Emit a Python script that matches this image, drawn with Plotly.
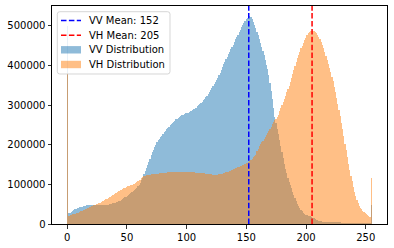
import numpy as np
import plotly.graph_objects as go

pixel_values = list(range(256))

vv_counts = [
    500000, 27000, 29000, 31000, 33000, 35000, 37000, 38000, 40000, 41000,
    42000, 43000, 44000, 45000, 46000, 46000, 47000, 47000, 48000, 48000,
    48000, 48000, 48000, 48000, 48000, 48000, 48000, 48000, 48000, 48000,
    48000, 48000, 49000, 49000, 49000, 50000, 50000, 51000, 52000, 53000,
    54000, 55000, 56000, 57000, 59000, 61000, 63000, 65000, 67000, 69000,
    71000, 73000, 75000, 78000, 80000, 83000, 86000, 89000, 92000, 95000,
    99000, 104000, 110000, 117000, 125000, 133000, 141000, 149000, 157000, 165000,
    173000, 181000, 188000, 194000, 200000, 206000, 211000, 215000, 219000, 223000,
    227000, 231000, 235000, 239000, 243000, 246000, 249000, 252000, 255000, 258000,
    261000, 264000, 266000, 268000, 270000, 272000, 274000, 276000, 278000, 279000,
    280000, 281000, 282000, 284000, 286000, 288000, 290000, 292000, 294000, 297000,
    300000, 303000, 306000, 309000, 312000, 316000, 320000, 324000, 329000, 334000,
    339000, 344000, 349000, 354000, 359000, 364000, 369000, 375000, 382000, 389000,
    396000, 403000, 410000, 416000, 422000, 428000, 434000, 441000, 447000, 453000,
    459000, 466000, 472000, 478000, 484000, 490000, 496000, 502000, 508000, 513000,
    517000, 521000, 523000, 524000, 522000, 517000, 510000, 502000, 494000, 485000,
    476000, 466000, 456000, 446000, 436000, 426000, 414000, 402000, 390000, 375000,
    355000, 335000, 315000, 293000, 270000, 255000, 240000, 226000, 212000, 196000,
    181000, 166000, 152000, 139000, 128000, 117000, 107000, 98000, 90000, 82000,
    72000, 65000, 58000, 51000, 45000, 40000, 36000, 32000, 28000, 25000,
    23000, 22000, 21000, 20000, 19000, 18000, 16000, 14000, 12000, 10000,
    9000, 8000, 7000, 7000, 6000, 6000, 6000, 5000, 5000, 5000,
    5000, 5000, 4000, 4000, 4000, 4000, 4000, 4000, 4000, 4000,
    3500, 3500, 3500, 3500, 3500, 3500, 3500, 3500, 3500, 3500,
    3500, 3500, 3500, 3500, 3000, 3000, 3000, 3000, 3000, 3000,
    3000, 3000, 3000, 3000, 3000, 48000,
]

vh_counts = [
    380000, 21000, 22000, 23000, 24000, 25000, 26000, 27000, 28000, 29000,
    30000, 32000, 33000, 35000, 36000, 37000, 39000, 41000, 42000, 44000,
    45000, 46000, 48000, 49000, 50000, 51000, 53000, 54000, 56000, 57000,
    59000, 60000, 62000, 64000, 65000, 67000, 69000, 71000, 73000, 75000,
    77000, 79000, 81000, 83000, 85000, 87000, 89000, 91000, 92000, 94000,
    95000, 96000, 97000, 98000, 99000, 100000, 102000, 104000, 106000, 108000,
    110000, 112000, 115000, 118000, 121000, 122000, 123000, 123000, 124000, 124000,
    125000, 125000, 126000, 126000, 127000, 127000, 127000, 128000, 128000, 128000,
    129000, 129000, 129000, 129000, 130000, 130000, 130000, 130000, 130000, 130000,
    130000, 130000, 130000, 130000, 130000, 130000, 130000, 130000, 130000, 130000,
    130000, 130000, 130000, 130000, 130000, 130000, 130000, 129000, 129000, 129000,
    129000, 129000, 129000, 129000, 128000, 128000, 127000, 127000, 126000, 126000,
    125000, 125000, 124000, 124000, 124000, 124000, 124000, 125000, 125000, 126000,
    127000, 128000, 129000, 130000, 131000, 132000, 133000, 135000, 136000, 138000,
    139000, 141000, 142000, 144000, 145000, 146000, 147000, 149000, 150000, 152000,
    153000, 154000, 156000, 159000, 162000, 165000, 168000, 171000, 175000, 183000,
    190000, 196000, 201000, 206000, 210000, 215000, 220000, 225000, 230000, 235000,
    240000, 246000, 252000, 258000, 262000, 265000, 270000, 276000, 284000, 292000,
    300000, 308000, 316000, 324000, 332000, 340000, 348000, 358000, 368000, 378000,
    389000, 399000, 409000, 418000, 427000, 435000, 443000, 450000, 457000, 464000,
    470000, 476000, 481000, 484000, 486000, 487000, 487000, 486000, 484000, 481000,
    477000, 472000, 466000, 460000, 452000, 443000, 434000, 425000, 415000, 405000,
    394000, 383000, 372000, 360000, 347000, 333000, 318000, 303000, 288000, 272000,
    256000, 239000, 221000, 203000, 186000, 168000, 152000, 137000, 122000, 108000,
    94000, 81000, 70000, 60000, 52000, 46000, 41000, 37000, 34000, 31000,
    28000, 25000, 22000, 20000, 18000, 116000,
]

vv_mean = 152
vh_mean = 205

x_ticks = [0, 50, 100, 150, 200, 250]
y_ticks = [0, 100000, 200000, 300000, 400000, 500000]

VV_BAR = "rgba(31,119,180,0.5)"
VH_BAR = "rgba(255,127,14,0.5)"
VV_LINE = "rgb(0,0,255)"
VH_LINE = "rgb(255,0,0)"
DASH = "5.5px,2.4px"

W, H = 394, 248
ML, MR, MT, MB = 52, 7, 6, 24
PW, PH = W - ML - MR, H - MT - MB

edges = np.linspace(0, 255, len(pixel_values) + 1)
centers = (edges[:-1] + edges[1:]) / 2
bin_width = edges[1] - edges[0]
ymax = 1.05 * max(max(vv_counts), max(vh_counts))
span = edges[-1] - edges[0]
xrange = [edges[0] - 0.05 * span, edges[-1] + 0.05 * span]

font = dict(family="DejaVu Sans", size=10, color="#000000")

fig = go.Figure()
fig.add_trace(go.Bar(
    x=centers, y=vv_counts, width=bin_width, name="VV Distribution",
    marker=dict(color=VV_BAR, line=dict(width=0)), showlegend=False,
))
fig.add_trace(go.Bar(
    x=centers, y=vh_counts, width=bin_width, name="VH Distribution",
    marker=dict(color=VH_BAR, line=dict(width=0)), showlegend=False,
))
fig.add_trace(go.Scatter(
    x=[vv_mean, vv_mean], y=[0, ymax], mode="lines", name=f"VV Mean: {vv_mean}",
    line=dict(color=VV_LINE, width=1.5, dash=DASH), showlegend=False,
))
fig.add_trace(go.Scatter(
    x=[vh_mean, vh_mean], y=[0, ymax], mode="lines", name=f"VH Mean: {vh_mean}",
    line=dict(color=VH_LINE, width=1.5, dash=DASH), showlegend=False,
))


# ---- matplotlib-style legend box (layout decoration, pixel based) ----
def px(xp):
    return (xp - ML) / PW


def py(yp):
    return (H - MB - yp) / PH


shapes = []
annotations = []
bx0, bx1, by0, by1, r = 57.3, 170.0, 11.7, 74.0, 2.5
path = (
    f"M {px(bx0 + r)},{py(by0)} L {px(bx1 - r)},{py(by0)} "
    f"Q {px(bx1)},{py(by0)} {px(bx1)},{py(by0 + r)} "
    f"L {px(bx1)},{py(by1 - r)} Q {px(bx1)},{py(by1)} {px(bx1 - r)},{py(by1)} "
    f"L {px(bx0 + r)},{py(by1)} Q {px(bx0)},{py(by1)} {px(bx0)},{py(by1 - r)} "
    f"L {px(bx0)},{py(by0 + r)} Q {px(bx0)},{py(by0)} {px(bx0 + r)},{py(by0)} Z"
)
shapes.append(dict(type="path", xref="paper", yref="paper", path=path,
                   fillcolor="rgba(255,255,255,0.8)",
                   line=dict(color="rgba(204,204,204,0.8)", width=1), layer="above"))

entries = [
    ("line", VV_LINE, f"VV Mean: {vv_mean}", 20.5),
    ("line", VH_LINE, f"VH Mean: {vh_mean}", 35.2),
    ("patch", VV_BAR, "VV Distribution", 49.8),
    ("patch", VH_BAR, "VH Distribution", 64.5),
]
for kind, color, label, yc in entries:
    if kind == "line":
        shapes.append(dict(type="line", xref="paper", yref="paper",
                           x0=px(61), x1=px(81), y0=py(yc), y1=py(yc),
                           line=dict(color=color, width=1.5, dash=DASH), layer="above"))
    else:
        shapes.append(dict(type="rect", xref="paper", yref="paper",
                           x0=px(61), x1=px(81), y0=py(yc - 3.7), y1=py(yc + 3.7),
                           fillcolor=color, line=dict(width=0), layer="above"))
    annotations.append(dict(xref="paper", yref="paper", x=px(88), y=py(yc),
                            xanchor="left", yanchor="middle", text=label,
                            showarrow=False, font=font, borderpad=0))

fig.update_layout(
    width=W, height=H,
    margin=dict(l=ML, r=MR, t=MT, b=MB, autoexpand=False),
    paper_bgcolor="white", plot_bgcolor="white",
    barmode="overlay", bargap=0,
    font=font,
    showlegend=False,
    hovermode=False,
    shapes=shapes,
    annotations=annotations,
)
fig.update_xaxes(
    range=xrange, tickvals=x_ticks, showgrid=False, zeroline=False, automargin=False,
    showline=True, linecolor="black", linewidth=1, mirror=True,
    ticks="outside", ticklen=3.5, tickwidth=0.8, tickcolor="black",
    tickfont=font,
)
fig.update_yaxes(
    range=[0, ymax], tickvals=y_ticks, tickformat="d", showgrid=False, zeroline=False,
    automargin=False,
    showline=True, linecolor="black", linewidth=1, mirror=True,
    ticks="outside", ticklen=3.5, tickwidth=0.8, tickcolor="black",
    tickfont=font,
)

fig.write_html(
    "out.html",
    config={"displayModeBar": False, "staticPlot": True},
    post_script="document.body.style.margin='0';document.body.style.overflow='hidden';",
)
